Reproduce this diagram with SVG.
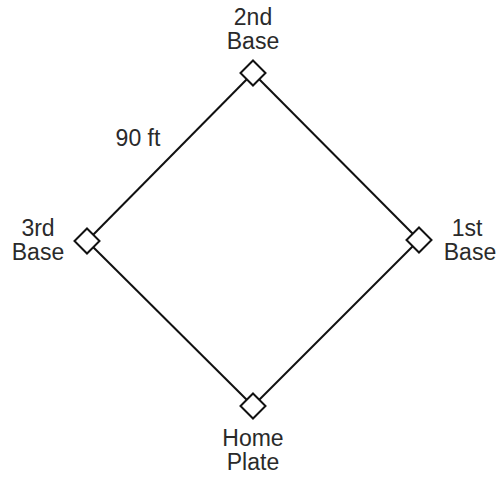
<svg xmlns="http://www.w3.org/2000/svg" width="500" height="477" viewBox="0 0 500 477">
<style>
.t{font-family:"Liberation Sans",Arial,sans-serif;font-size:23px;fill:#2a2a2a;text-anchor:middle}
.l{stroke:#111;stroke-width:2;fill:none}
.b{stroke:#111;stroke-width:2;fill:#fff}
</style>
<defs>
<polygon id="base" points="0,-12.5 12.5,0 0,12.5 -12.5,0"/>
</defs>
<rect width="500" height="477" fill="#fff"/>
<g id="connectors">
<line class="l" x1="253" y1="73" x2="87" y2="241"/>
<line class="l" x1="253" y1="73" x2="419" y2="240"/>
<line class="l" x1="87" y1="241" x2="253" y2="406"/>
<line class="l" x1="419" y1="240" x2="253" y2="406"/>
</g>
<g id="second">
<use href="#base" class="b" x="253" y="73"/>
<text class="t"><tspan x="253" y="25">2nd</tspan><tspan x="253" y="49">Base</tspan></text>
</g>
<g id="third">
<use href="#base" class="b" x="87" y="241"/>
<text class="t"><tspan x="38" y="236">3rd</tspan><tspan x="38" y="260">Base</tspan></text>
</g>
<g id="first">
<use href="#base" class="b" x="419" y="240"/>
<text class="t"><tspan x="467" y="236">1st</tspan><tspan x="470" y="260">Base</tspan></text>
</g>
<g id="home">
<use href="#base" class="b" x="253" y="406"/>
<text class="t"><tspan x="253" y="446">Home</tspan><tspan x="253" y="470">Plate</tspan></text>
</g>
<g id="label">
<text class="t" x="138" y="146">90 ft</text>
</g>
</svg>
